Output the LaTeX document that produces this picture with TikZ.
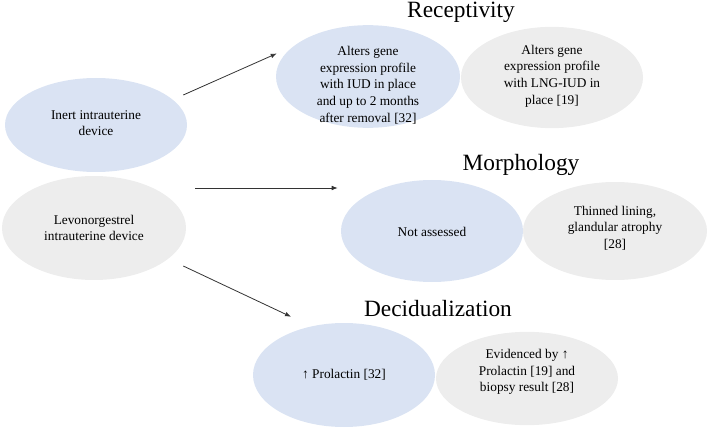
\documentclass[tikz,border=0pt]{standalone}
\usepackage{fontspec}
\setmainfont{Liberation Serif}
\usetikzlibrary{shapes.geometric, arrows.meta}
\definecolor{iudblue}{RGB}{218,227,243}
\definecolor{iudgray}{RGB}{237,237,237}

\begin{document}
\begin{tikzpicture}[x=0.75pt, y=-0.75pt,
    bub/.style={ellipse, inner sep=0pt},
    blu/.style={bub, fill=iudblue},
    gry/.style={bub, fill=iudgray},
    txt/.style={align=center, inner sep=0pt, font=\fontsize{10}{12.5}\selectfont},
    ttl/.style={anchor=base, inner sep=0pt, font=\fontsize{17.5}{20}\selectfont},
    arr/.style={-{Latex[length=4.5pt, width=3.5pt]}, line width=0.6pt, black!80}]
    \useasboundingbox (0,0) rectangle (708,428);
    % the two devices
    \node[blu, minimum width=136.5pt, minimum height=70.5pt] (inert) at (96,125) {};
    \node[gry, minimum width=138pt, minimum height=78pt] (lng) at (94,228) {};
    \node[txt] (inertT) at (96,123) {Inert intrauterine\\device};
    \node[txt] (lngT) at (94,228) {Levonorgestrel\\intrauterine device};
    % receptivity
    \node[ttl] (recep) at (461,18) {Receptivity};
    \node[blu, minimum width=138pt, minimum height=77pt] (recepA) at (368,76.5) {};
    \node[gry, minimum width=136.5pt, minimum height=76pt] (recepB) at (552,77.5) {};
    \node[txt] (recepAT) at (368,85) {Alters gene\\expression profile\\with IUD in place\\and up to 2 months\\after removal [32]};
    \node[txt] (recepBT) at (552,76) {Alters gene\\expression profile\\with LNG-IUD in\\place [19]};
    % morphology
    \node[ttl] (morph) at (521,171) {Morphology};
    \node[blu, minimum width=136.5pt, minimum height=76.5pt] (morphA) at (432,231) {};
    \node[gry, minimum width=138pt, minimum height=73.5pt] (morphB) at (615,231) {};
    \node[txt] (morphAT) at (432,232) {Not assessed};
    \node[txt] (morphBT) at (615,228) {Thinned lining,\\glandular atrophy\\{}[28]};
    % decidualization
    \node[ttl] (decid) at (438,316) {Decidualization};
    \node[blu, minimum width=136.5pt, minimum height=78pt] (decidA) at (344,375) {};
    \node[gry, minimum width=136.5pt, minimum height=70pt] (decidB) at (527,378.5) {};
    \node[txt] (decidAT) at (344,375) {↑ Prolactin [32]};
    \node[txt] (decidBT) at (527,372) {Evidenced by ↑\\Prolactin [19] and\\biopsy result [28]};
    % arrows
    \draw[arr] ([shift={(-4,-30)}]inert.east) -- ([shift={(1,-23)}]recepA.west);
    \draw[arr] ([shift={(9,-40)}]lng.east) -- ([shift={(-3,-43)}]morphA.west);
    \draw[arr] ([shift={(-3,38)}]lng.east) -- ([shift={(-53,-6)}]decidA.north);
\end{tikzpicture}
\end{document}
